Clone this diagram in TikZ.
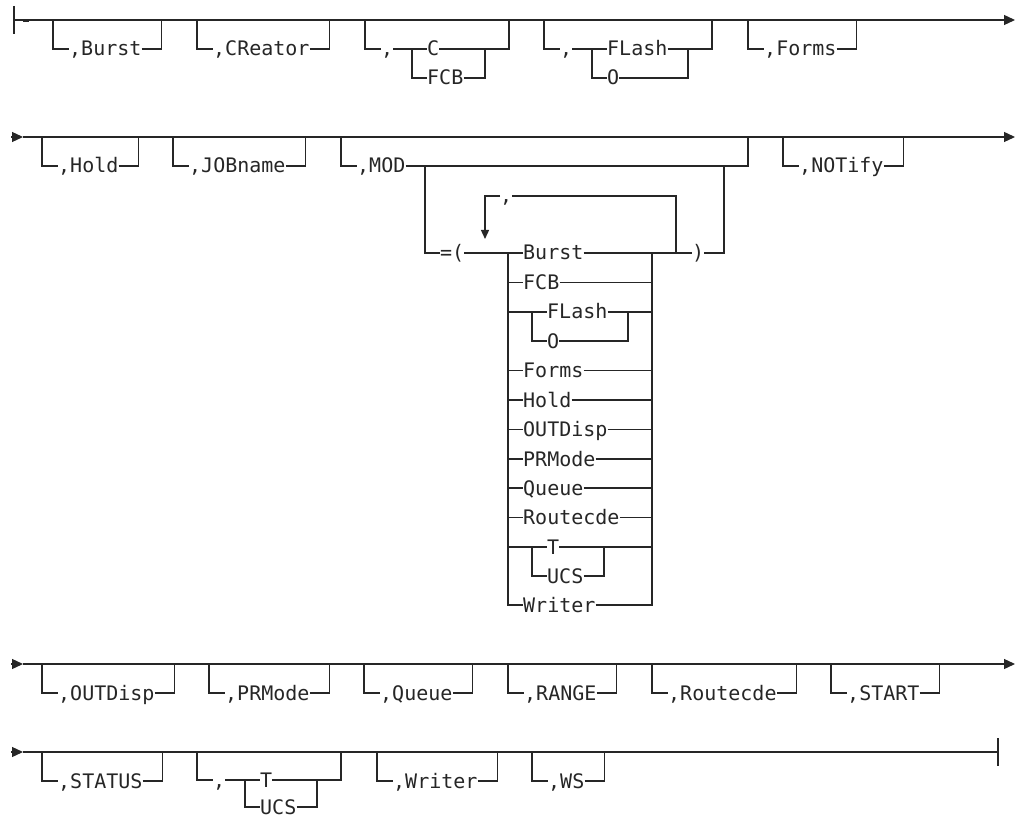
\documentclass[tikz,border=0pt]{standalone}
\usepackage{fontspec}
\newfontfamily\rrfont{DejaVu Sans Mono}
\usetikzlibrary{arrows.meta,calc}
\definecolor{ink}{HTML}{262626}
\tikzset{
  lbl/.style={font=\rrfont\fontsize{20}{24}\selectfont, text=ink, inner sep=0pt,
              text height=14pt, text depth=0pt, anchor=west},
  rail/.style={draw=ink, line width=1.3pt},
  tip/.style={-{Triangle[length=11pt,width=10pt]}},
  blob/.style={draw=ink, line width=2.4pt}
}
\newcommand\ob[4]{%
  \coordinate (#1L) at (#2,#3);
  \node[lbl] (#1) at ({#2+16},{#3+29}) {#4};
  \coordinate (#1R) at ($(#1.east)+(20,-29)$);
  \draw[rail] (#1L) |- (#1.west);
  \draw[rail] (#1.east) -| (#1R);
}
\begin{document}
\begin{tikzpicture}[x=1pt,y=-1pt]
\useasboundingbox (0,0) rectangle (1017,818);

% ---------------- Row 1 ----------------
\coordinate (r1s) at (14,20);
\coordinate (r1e) at (1015,20);
\coordinate (r1bt) at (14,6);
\coordinate (r1bb) at (14,34);
\coordinate (r1d1) at (23,20.5);
\coordinate (r1d2) at (29,20.5);
\draw[rail] (r1bt) -- (r1bb);
\draw[rail,tip] (r1s) -- (r1e);
\draw[blob] (r1d1) -- (r1d2);

\ob{burst}{53}{20}{,Burst}
\ob{creator}{197}{20}{,CReator}

% ,C / FCB
\coordinate (cL) at (365,20);
\node[lbl] (cc) at (381,49) {,};
\coordinate (cB) at (412,49);
\node[lbl] (cC) at (427,49) {C};
\node[lbl] (cF) at (427,78) {FCB};
\coordinate (cIR) at (485,49);
\coordinate (cR) at (509,20);
\draw[rail] (cL) |- (cc.west);
\draw[rail] (cc.east) -- (cC.west);
\draw[rail] (cB) |- (cF.west);
\draw[rail] (cF.east) -| (cIR);
\draw[rail] (cC.east) -| (cR);

% ,FLash / O
\coordinate (fL) at (544,20);
\node[lbl] (fc) at (560,49) {,};
\coordinate (fB) at (592,49);
\node[lbl] (fF) at (607,49) {FLash};
\node[lbl] (fO) at (607,78) {O};
\coordinate (fIR) at (688,49);
\coordinate (fR) at (712,20);
\draw[rail] (fL) |- (fc.west);
\draw[rail] (fc.east) -- (fF.west);
\draw[rail] (fB) |- (fO.west);
\draw[rail] (fO.east) -| (fIR);
\draw[rail] (fF.east) -| (fR);

\ob{forms}{748}{20}{,Forms}

% ---------------- Row 2 ----------------
\coordinate (r2a) at (11,137);
\coordinate (r2s) at (23,137);
\coordinate (r2e) at (1015,137);
\draw[rail,tip] (r2a) -- (r2s);
\draw[rail,tip] (r2s) -- (r2e);

\ob{hold}{42}{137}{,Hold}
\ob{jobname}{173}{137}{,JOBname}

% ,MOD
\coordinate (m0) at (341,137);
\node[lbl] (mod) at (357,166) {,MOD};
\coordinate (mR) at (748,137);
\draw[rail] (m0) |- (mod.west);
\draw[rail] (mod.east) -| (mR);
\coordinate (mB) at (425,166);
\node[lbl] (eq) at (440,253) {=(};
\draw[rail] (mB) |- (eq.west);
\node[lbl] (rp) at (692,253) {)};
\coordinate (mB2) at (724,166);
\draw[rail] (rp.east) -| (mB2);

% stack
\coordinate (sL) at (508,253);
\coordinate (sR) at (652,253);
\node[lbl] (s1) at (523,253) {Burst};
\node[lbl] (s2) at (523,282.5) {FCB};
\node[lbl] (s3) at (547,312) {FLash};
\node[lbl] (s3b) at (547,341) {O};
\node[lbl] (s4) at (523,370.5) {Forms};
\node[lbl] (s5) at (523,400) {Hold};
\node[lbl] (s6) at (523,429.5) {OUTDisp};
\node[lbl] (s7) at (523,459) {PRMode};
\node[lbl] (s8) at (523,488) {Queue};
\node[lbl] (s9) at (523,517.5) {Routecde};
\node[lbl] (s10) at (547,547) {T};
\node[lbl] (s10b) at (547,576) {UCS};
\node[lbl] (s11) at (523,605) {Writer};

\draw[rail] (eq.east) -- (s1.west);
\draw[rail] (s1.east) -- (rp.west);
\draw[rail] (sL) |- (s11.west);
\draw[rail] (s11.east) -| (sR);
\foreach \n in {s2,s4,s5,s6,s7,s8,s9}{
  \draw[rail] (sL |- \n.west) -- (\n.west);
  \draw[rail] (\n.east) -- (sR |- \n.east);
}
% FLash / O inside stack
\coordinate (s3B) at (532,312);
\coordinate (s3R) at (628,312);
\draw[rail] (sL |- s3.west) -- (s3.west);
\draw[rail] (s3.east) -- (sR |- s3.east);
\draw[rail] (s3B) |- (s3b.west);
\draw[rail] (s3b.east) -| (s3R);
% T / UCS inside stack
\coordinate (s10B) at (532,547);
\coordinate (s10R) at (604,547);
\draw[rail] (sL |- s10.west) -- (s10.west);
\draw[rail] (s10.east) -- (sR |- s10.east);
\draw[rail] (s10B) |- (s10b.west);
\draw[rail] (s10b.east) -| (s10R);

% repeat loop
\coordinate (lpR) at (676,253);
\node[lbl] (lpc) at (500,196) {,};
\coordinate (lpA) at (485,239);
\draw[rail] (lpR) |- (lpc.east);
\draw[rail,-{Triangle[length=9pt,width=8pt]}] (lpc.west) -| (lpA);

\ob{notify}{783}{137}{,NOTify}

% ---------------- Row 3 ----------------
\coordinate (r3a) at (11,664);
\coordinate (r3s) at (23,664);
\coordinate (r3e) at (1015,664);
\draw[rail,tip] (r3a) -- (r3s);
\draw[rail,tip] (r3s) -- (r3e);

\ob{outdisp}{42}{664}{,OUTDisp}
\ob{prmode}{209}{664}{,PRMode}
\ob{queue}{364}{664}{,Queue}
\ob{range}{508}{664}{,RANGE}
\ob{routecde}{652}{664}{,Routecde}
\ob{start}{831}{664}{,START}

% ---------------- Row 4 ----------------
\coordinate (r4a) at (11,752);
\coordinate (r4s) at (23,752);
\coordinate (r4e) at (998,752);
\coordinate (r4bt) at (998,738);
\coordinate (r4bb) at (998,766);
\coordinate (r4d1) at (610,752);
\coordinate (r4d2) at (633,752);
\draw[rail,tip] (r4a) -- (r4s);
\draw[rail] (r4s) -- (r4e);
\draw[rail] (r4bt) -- (r4bb);
\draw[blob,line width=1.8pt] (r4d1) -- (r4d2);

\ob{status}{42}{752}{,STATUS}

% ,T / UCS
\coordinate (tL) at (197,752);
\node[lbl] (tc) at (213,780) {,};
\coordinate (tB) at (245,780);
\node[lbl] (tT) at (260,780) {T};
\node[lbl] (tU) at (260,807) {UCS};
\coordinate (tIR) at (317,780);
\coordinate (tR) at (341,752);
\draw[rail] (tL) |- (tc.west);
\draw[rail] (tc.east) -- (tT.west);
\draw[rail] (tB) |- (tU.west);
\draw[rail] (tU.east) -| (tIR);
\draw[rail] (tT.east) -| (tR);

\ob{writer}{377}{752}{,Writer}
\ob{ws}{532}{752}{,WS}

\end{tikzpicture}
\end{document}
